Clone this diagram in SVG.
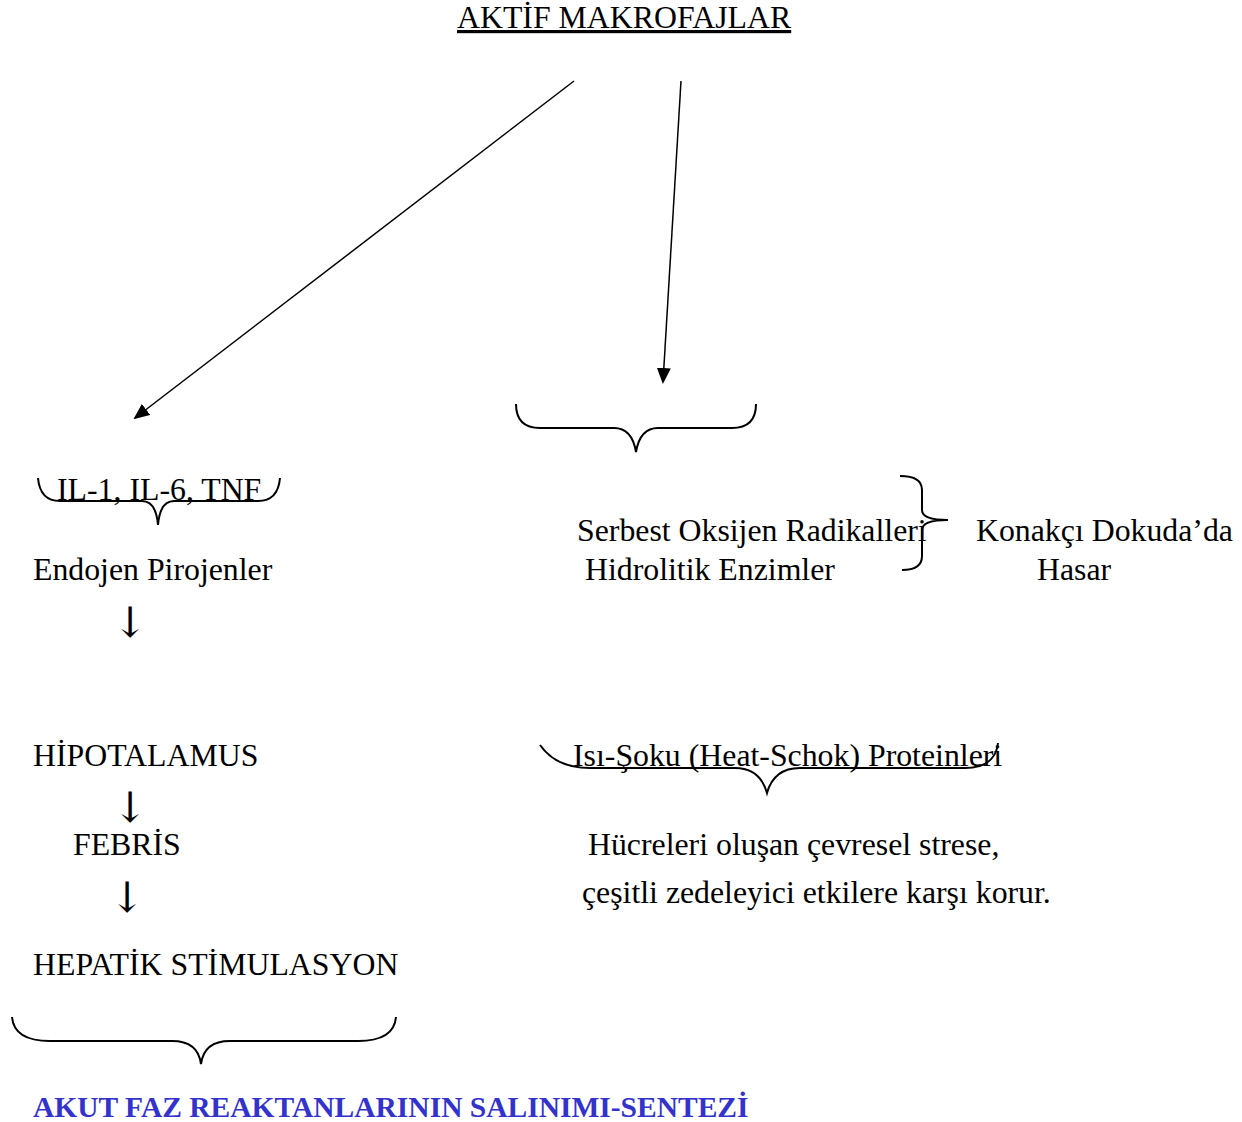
<svg xmlns="http://www.w3.org/2000/svg" width="1242" height="1122" viewBox="0 0 1242 1122">
<defs>
<style>
text{font-family:"Liberation Serif","Times New Roman",serif;font-size:31.8px;fill:#000}
.arr{font-family:"DejaVu Serif","DejaVu Sans",serif;font-size:42px}
.br{fill:none;stroke:#000;stroke-width:2}
.ln{stroke:#000;stroke-width:1.5;fill:none}
.bold{font-weight:bold;fill:#3333cc;font-size:29.5px}
</style>
<marker id="ah" markerWidth="16" markerHeight="14" refX="14" refY="7" orient="auto" markerUnits="userSpaceOnUse"><path d="M0,0 L16,7 L0,14 Z" fill="#000"/></marker>
</defs>
<rect width="1242" height="1122" fill="#fff"/>
<g id="connectors">
<line class="ln" x1="574" y1="81" x2="135" y2="418" marker-end="url(#ah)"/>
<line class="ln" x1="681" y1="81" x2="663" y2="382" marker-end="url(#ah)"/>
</g>
<g id="aktif"><text x="457" y="28" text-decoration="underline">AKTİF MAKROFAJLAR</text></g>
<g id="brace-top"><path class="br" d="M516,404 Q516,428 540,428 L614,428 Q632,428 636,452 Q640,428 658,428 L732,428 Q756,428 756,404"/></g>
<g id="cytokines">
<text x="57" y="500">IL-1, IL-6, TNF</text>
<path class="br" d="M38,478 Q40,501 60,501 L142,501 Q156,501 158,525 Q160,501 174,501 L258,501 Q278,501 280,478"/>
</g>
<g id="endojen"><text x="33" y="580">Endojen Pirojenler</text><text class="arr" x="130" y="637" text-anchor="middle">↓</text></g>
<g id="radikaller">
<text x="577" y="541">Serbest Oksijen Radikalleri</text>
<text x="585" y="580">Hidrolitik Enzimler</text>
<path class="br" d="M900,476 Q922,476 922,490 L922,510 Q922,520 948,520 Q922,520 922,530 L922,556 Q922,570 902,570"/>
</g>
<g id="hasar"><text x="976" y="541">Konakçı Dokuda’da</text><text x="1037" y="580">Hasar</text></g>
<g id="hipotalamus"><text x="33" y="766">HİPOTALAMUS</text><text class="arr" x="130" y="822" text-anchor="middle">↓</text></g>
<g id="febris"><text x="73" y="855">FEBRİS</text><text class="arr" x="127" y="912" text-anchor="middle">↓</text></g>
<g id="hepatik"><text x="33" y="975">HEPATİK STİMULASYON</text></g>
<g id="isi">
<text x="573" y="766">Isı-Şoku (Heat-Schok) Proteinleri</text>
<path class="br" d="M540,745 Q556,768 590,768 L735,768 Q760,768 767,793 Q774,768 800,768 L965,768 Q995,768 998,743"/>
</g>
<g id="hucre">
<text x="588" y="855">Hücreleri oluşan çevresel strese,</text>
<text x="582" y="903">çeşitli zedeleyici etkilere karşı korur.</text>
</g>
<g id="brace-bottom"><path class="br" d="M12,1017 Q14,1041 50,1041 L172,1041 Q198,1041 201,1064 Q204,1041 230,1041 L358,1041 Q394,1041 396,1017"/></g>
<g id="akut"><text class="bold" x="33" y="1117">AKUT FAZ REAKTANLARININ SALINIMI-SENTEZİ</text></g>
</svg>
